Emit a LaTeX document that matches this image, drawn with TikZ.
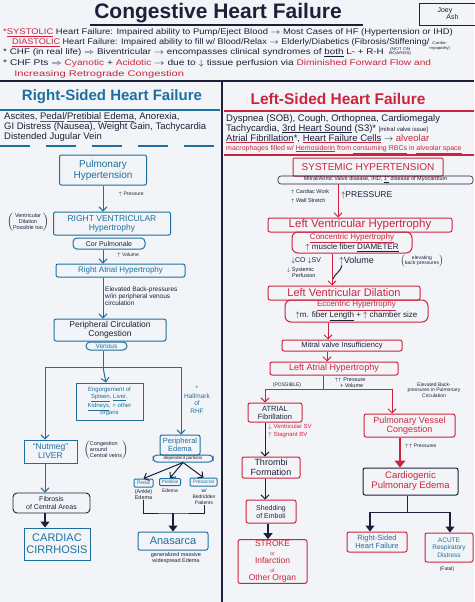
\documentclass[tikz,border=0pt]{standalone}
\usepackage{fontspec}
\setmainfont{Liberation Sans}
\usetikzlibrary{arrows.meta,calc}
\definecolor{ink}{RGB}{28,32,58}
\definecolor{rhfblue}{RGB}{28,112,160}
\definecolor{lhfred}{RGB}{204,36,62}
\definecolor{paper}{RGB}{243,244,247}
\newcommand{\redul}[1]{{\color{lhfred}\underline{\textcolor{ink}{#1}}}}
\newcommand{\tinystack}[3][b]{{\fontsize{#2}{#2}\selectfont\begin{tabular}[#1]{@{}c@{}}#3\end{tabular}}}

\tikzset{
  fs/.style 2 args={font=\fontsize{#1}{#2}\selectfont},
  bfs/.style 2 args={font=\fontsize{#1}{#2}\selectfont\bfseries},
  sz/.style 2 args={minimum width=#1pt,minimum height=#2pt},
  bluebox/.style={rectangle,draw=rhfblue,line width=1pt,text=rhfblue,align=center,inner sep=1pt,rounded corners=2pt},
  redbox/.style={rectangle,draw=lhfred,line width=1pt,text=lhfred,align=center,inner sep=1pt,rounded corners=2pt},
  pill/.style={rounded corners=4pt},
  note/.style={text=ink,align=center,inner sep=0pt},
  hdr/.style={anchor=base west,inner sep=0pt,transform shape,xscale=#1,text=ink,fs={8.2}{9}},
  bluearrow/.style={draw=rhfblue,line width=1pt,-{Straight Barb[length=4pt,width=8pt]}},
  blueline/.style={draw=rhfblue,line width=1pt},
  redarrow/.style={draw=lhfred,line width=1pt,-{Straight Barb[length=4pt,width=8pt]}},
  redline/.style={draw=lhfred,line width=1pt},
  inkarrow/.style={draw=ink,line width=1pt,-{Straight Barb[length=4pt,width=8pt]}},
  inkline/.style={draw=ink,line width=1pt},
  boldarrow/.style={draw=ink,line width=1.3pt,-{Triangle[length=6pt,width=9pt]}},
  redbold/.style={draw=lhfred,line width=1.3pt,-{Triangle[length=7pt,width=11pt]}}
}

\begin{document}
\begin{tikzpicture}[x=1pt,y=-1pt]
\useasboundingbox (0,0) rectangle (474,602);
\fill[paper] (0,0) rectangle (474,602);

% title and header
\node[bfs={21}{22},text=ink] (title) at (218,13) {Congestive Heart Failure};
\draw[ink,line width=1.5pt] (90,25) -- (363,25);
\node[draw=ink,line width=0.8pt,sz={58}{22},fs={7}{7},text=ink,align=left] (author) at (448,14) {Joey\\\quad\ Ash};

\node[hdr=1.15] (systolic) at (3,35) {{\color{lhfred}*\underline{SYSTOLIC}} Heart Failure: Impaired ability to Pump/Eject Blood $\rightarrow$ Most Cases of HF (Hypertension or IHD)};
\node[hdr=1.11] (diastolic) at (12,45) {{\color{lhfred}\underline{DIASTOLIC}} Heart Failure: Impaired ability to fill w/ Blood/Relax $\rightarrow$ Elderly/Diabetics (Fibrosis/Stiffening/\tinystack[t]{4}{Cardio-\\myopathy)}};
\node[hdr=1.2] (chfreal) at (3,55) {* CHF (in real life) $\Rightarrow$ Biventricular $\rightarrow$ encompasses clinical syndromes of \underline{both} L- + R-H \ \tinystack{4}{(NOT ON\\BOARDS)}};
\node[hdr=1.24] (chfpts) at (3,65.5) {* CHF Pts $\Rightarrow$ {\color{lhfred}Cyanotic} + {\color{lhfred}Acidotic} $\rightarrow$ due to $\downarrow$ tissue perfusion via {\color{lhfred}Diminished Forward Flow and}};
\node[hdr=1.36,text=lhfred] (retro) at (14,76) {Increasing Retrograde Congestion};

% frame
\draw[ink,line width=2.5pt] (0,81) -- (474,81);
\draw[ink,line width=2.5pt] (222,81) -- (222,602);

% right-sided panel head
\node[bfs={15}{16},text=rhfblue] (rhf) at (112,97) {Right-Sided Heart Failure};
\draw[rhfblue,line width=1.5pt] (0,110) -- (220,110);
\node[anchor=north west,inner sep=0pt,fs={9.5}{10},text=ink,align=left] (rhfsigns) at (4,112.5) {Ascites, \redul{Pedal}/\redul{Pretibial} \redul{Edema}, Anorexia,\\GI Distress (Nausea), Weight Gain, Tachycardia\\Distended Jugular Vein};
\draw[rhfblue,line width=1.5pt,dash pattern=on 30pt off 16pt] (0,146) -- (220,146);

% left-sided panel head
\node[bfs={15.5}{16},text=lhfred] (lhf) at (338,99) {Left-Sided Heart Failure};
\draw[lhfred,line width=1.5pt] (224,111) -- (474,111);
\node[anchor=north west,inner sep=0pt,fs={9.5}{10},text=ink,align=left] (lhfsigns) at (226,114) {Dyspnea (SOB), Cough, Orthopnea, Cardiomegaly\\Tachycardia, \underline{3rd Heart Sound} (S3)* {\fontsize{6}{6}\selectfont[mitral valve issue]}\\\redul{Atrial Fibrillation}*, \redul{Heart Failure Cells} $\rightarrow$ {\color{lhfred}alveolar}};
\node[anchor=base west,inner sep=0pt,fs={7}{7},text=lhfred] (hfcells) at (226,150) {macrophages filled w/ \underline{Hemosiderin} from \underline{consuming RBCs} in \underline{alveolar space}};
\draw[lhfred,line width=1.2pt] (224,155) -- (474,155);

% right-sided chain
\node[bluebox,sz={87}{30},fs={10}{11}] (pulm) at (103,170) {Pulmonary\\Hypertension};
\node[bluebox,sz={117}{23},fs={8.5}{9}] (rvh) at (112,223.5) {RIGHT VENTRICULAR\\Hypertrophy};
\node[bluebox,pill,sz={72}{11},fs={7}{7},text=ink] (cor) at (109,243.5) {Cor Pulmonale};
\node[bluebox,sz={129}{13},fs={8}{8}] (rah) at (120.5,270.5) {Right Atrial Hypertrophy};
\node[bluebox,sz={112}{22},fs={8.5}{9},text=ink] (pcc) at (110,330) {Peripheral Circulation\\Congestion};
\node[bluebox,pill,sz={41}{8},fs={6.5}{7}] (venous) at (106.5,346) {Venous};
\node[bluebox,rounded corners=0pt,sz={67}{37},fs={6}{7}] (engorge) at (109.5,401.5) {Engorgement of\\\underline{Spleen}, \underline{Liver},\\\underline{Kidneys}, + other\\organs};
\node[bluebox,rounded corners=0pt,sz={53}{23},fs={8.5}{9}] (nutmeg) at (50.5,451.5) {``Nutmeg''\\LIVER};
\node[bluebox,sz={40}{20},fs={7.5}{8}] (periph) at (180,445) {Peripheral\\Edema};
\node[bluebox,pill,sz={60}{7},fs={4.5}{5},text=ink] (depend) at (183,458.5) {dependent portions};
\node[bluebox,rounded corners=1pt,sz={19}{8},fs={5}{5}] (pedal) at (143.5,483) {Pedal};
\node[bluebox,rounded corners=1pt,sz={21}{7},fs={4.5}{5}] (pretib) at (170,482) {Pretibial};
\node[bluebox,rounded corners=1pt,sz={27}{8},fs={5}{5}] (presac) at (203.5,482) {Presacral};
\node[note,fs={5.5}{6}] (pedalnote) at (143.5,494.5) {(Ankle)\\Edema};
\node[note,fs={5}{6}] (pretibnote) at (170,491) {Edema};
\node[note,fs={5}{6}] (presacnote) at (204,497) {w/\\Bedridden\\Patients};
\node[bluebox,sz={70}{18},fs={11}{12}] (anasarca) at (173,541) {Anasarca};
\node[note,fs={5.5}{6.5}] (anasnote) at (176,558) {generalized massive\\widespread Edema};
\node[draw=ink,line width=0.9pt,rounded corners=4pt,sz={77}{20},fs={7}{8},text=ink,align=center,inner sep=1pt] (fibrosis) at (51.5,503) {Fibrosis\\of Central Areas};
\node[bluebox,rounded corners=0pt,sz={66}{32},fs={11}{12}] (cirrhosis) at (57,544) {CARDIAC\\CIRRHOSIS};

\node[note,fs={5}{6}] (rpresslbl) at (131,194) {$\uparrow$ Pressure};
\node[note,fs={5.5}{6}] (dilnote) at (28,222) {$\left(\begin{tabular}{@{}c@{}}Ventricular\\Dilation\\Possible too\end{tabular}\right)$};
\node[note,fs={5}{6}] (rvollbl) at (128,255) {$\uparrow$ Volume};
\node[note,fs={6.5}{7},align=left,anchor=west] (rbacklbl) at (105,296) {Elevated Back-pressures\\w/in peripheral venous\\circulation};
\node[note,fs={6.5}{7.5},text=rhfblue] (hallmark) at (197,400) {*\\Hallmark\\of\\RHF};
\node[note,fs={5.5}{6}] (nutnote) at (106,450) {$\left(\begin{tabular}{@{}l@{}}Congestion\\around\\Central veins\end{tabular}\right)$};

\coordinate (rsplit) at (103,367);
\coordinate (rsplitl) at (45,367);
\coordinate (rsplitr) at (181,367);
\coordinate (bracket) at (173,513);

\draw[bluearrow] (pulm) -- (pulm |- rvh.north);
\draw[bluearrow] (cor.south -| pulm) -- (rah.north -| pulm);
\draw[bluearrow] (rah.south -| pulm) -- (pcc.north -| pulm);
\draw[blueline] (venous.south -| rsplit) -- (rsplit);
\draw[blueline] (rsplitl) -- (rsplitr);
\draw[bluearrow] (rsplit) -- (engorge);
\draw[bluearrow] (rsplitl) -- (rsplitl |- nutmeg.north);
\draw[bluearrow] (rsplitr) -- (rsplitr |- periph.north);
\draw[inkarrow] (depend.south) -- (pedal.north);
\draw[inkarrow] (depend.south) -- (pretib.north);
\draw[inkarrow] (depend.south) -- (presac.north);
\draw[inkline] (pedalnote.south) |- (bracket) -| (presacnote.south);
\draw[boldarrow] (bracket) -- (anasarca);
\draw[bluearrow] (nutmeg.south -| rsplitl) -- (fibrosis.north -| rsplitl);
\draw[boldarrow] (fibrosis.south -| rsplitl) -- (cirrhosis.north -| rsplitl);

% left-sided chain
\node[redbox,rounded corners=1pt,sz={150}{18},fs={10}{10}] (systemic) at (368,167) {SYSTEMIC HYPERTENSION};
\node[draw=ink,line width=0.6pt,rounded corners=3pt,sz={195}{8},fs={5.5}{6},text=ink,inner sep=0pt] (causes) at (375.5,180) {Mitral/Aortic Valve disease, IHD, \underline{1°} disease of Myocardium};
\node[redbox,sz={184}{14},fs={11.5}{12}] (lvh) at (360,225) {Left Ventricular Hypertrophy};
\node[redbox,rounded corners=6pt,sz={120}{21},fs={8}{9}] (concentric) at (352,242.5) {\underline{Concentric Hypertrophy}\\{\color{ink}$\uparrow$ muscle fiber \underline{DIAMETER}}};
\node[redbox,sz={152}{14},fs={11}{12}] (lvd) at (344,293) {Left Ventricular Dilation};
\node[redbox,rounded corners=6pt,sz={143}{22},fs={8}{9}] (eccentric) at (356.5,311) {\underline{Eccentric Hypertrophy}\\{\color{ink}$\uparrow$m. fiber \underline{Length} + $\uparrow$ chamber size}};
\node[redbox,sz={120}{11},fs={7.5}{8},text=ink] (mitral) at (342,345.5) {Mitral valve Insufficiency};
\node[redbox,sz={128}{13},fs={9}{9}] (lah) at (334,368.5) {Left Atrial Hypertrophy};
\node[redbox,sz={54}{19},fs={7.5}{8},text=ink] (afib) at (275,412.5) {ATRIAL\\Fibrillation};
\node[redbox,sz={58}{21},fs={9}{9.5},text=ink] (thrombi) at (271,467.5) {Thrombi\\Formation};
\node[redbox,sz={50}{23},fs={7}{8},text=ink] (shedding) at (271,511.5) {Shedding\\of Emboli};
\node[redbox,sz={69}{43},fs={8.5}{8.5}] (stroke) at (272.5,561.5) {STROKE\\{\fontsize{5}{6}\selectfont or}\\Infarction\\{\fontsize{5}{6}\selectfont of}\\Other Organ};
\node[redbox,sz={91}{23},fs={9}{9.5}] (pvc) at (409.5,425.5) {Pulmonary Vessel\\Congestion};
\node[draw=ink,line width=1pt,rounded corners=2pt,sz={95}{27},fs={9.5}{10},text=lhfred,align=center,inner sep=1pt] (cardio) at (410.5,481.5) {Cardiogenic\\Pulmonary Edema};
\node[redbox,sz={60}{20},fs={7.5}{8},text=rhfblue] (rsided) at (377,542) {Right-Sided\\Heart Failure};
\node[redbox,sz={48}{29},fs={6.5}{7.5},text=rhfblue] (ards) at (449,547.5) {ACUTE\\Respiratory\\Distress};
\node[note,fs={5}{6}] (fatal) at (447,569) {(Fatal)};

\node[note,fs={5.5}{9},align=left] (worklbl) at (310,196.5) {$\uparrow$ Cardiac Work\\$\uparrow$ Wall Stretch};
\node[note,fs={8.5}{9},anchor=west] (lpresslbl) at (341,195) {$\uparrow$PRESSURE};
\node[note,fs={7}{7}] (colbl) at (306,261) {$\downarrow$CO $\downarrow$SV};
\node[note,fs={5.5}{6},align=left] (perflbl) at (301,273) {$\downarrow$ Systemic\\\quad Perfusion};
\node[note,fs={9}{9},anchor=west] (lvollbl) at (339,261) {$\uparrow$Volume};
\node[note,fs={5}{5.5}] (elevlbl) at (422,261) {$\left(\begin{tabular}{@{}c@{}}elevating\\back-pressures\end{tabular}\right)$};
\node[note,fs={5}{6}] (posslbl) at (287,385) {(POSSIBLE)};
\node[note,fs={5.5}{6},align=left] (ppvlbl) at (350,383) {$\uparrow\uparrow$ Pressure\\\quad + Volume};
\node[note,fs={5}{5.5}] (pulmback) at (434,390) {Elevated Back-\\pressures in Pulmonary\\Circulation};
\node[note,fs={6}{8},text=lhfred,align=left,anchor=west] (svlbl) at (268,431) {$\downarrow$ Ventricular SV\\$\uparrow$ Stagnant BV};
\node[note,fs={5}{6},anchor=west] (ppresslbl) at (405,446) {$\uparrow\uparrow$ Pressures};

\coordinate (volmerge) at (333,279);
\coordinate (lsplit) at (323,389);
\coordinate (lsplitl) at (265,389);
\coordinate (lsplitr) at (392,389);
\coordinate (csplit) at (407,512);
\coordinate (csplitl) at (370,512);
\coordinate (csplitr) at (450,512);

\draw[redarrow] ([xshift=-37.5pt]causes.south) -- ([xshift=-22pt]lvh.north);
\draw[redarrow] ([xshift=-20pt]concentric.south) -- ([xshift=-12pt]lvd.north);
\draw[inkline] ([xshift=3pt]lvollbl.south west) to[out=-100,in=70] (volmerge);
\draw[redarrow] ([xshift=-28.5pt]eccentric.south) -- ([xshift=-14pt]mitral.north);
\draw[redarrow] ([xshift=-15pt]mitral.south) -- ([xshift=-7pt]lah.north);
\draw[redline] ([xshift=-11pt]lah.south) -- (lsplit);
\draw[redline] (lsplitl) -- (lsplitr);
\draw[redarrow] (lsplitl) -- (lsplitl |- afib.north);
\draw[redarrow] (lsplitr) -- (lsplitr |- pvc.north);
\draw[inkarrow] ([xshift=-10pt]afib.south) -- ([xshift=-6pt]thrombi.north);
\draw[inkarrow] ([xshift=-6pt]thrombi.south) -- ([xshift=-6pt]shedding.north);
\draw[boldarrow] ([xshift=-3pt]shedding.south) -- ([xshift=-4.5pt]stroke.north);
\draw[redbold] ([xshift=-9.5pt]pvc.south) -- ([xshift=-10.5pt]cardio.north);
\draw[inkline] ([xshift=-3.5pt]cardio.south) -- (csplit);
\draw[inkline] (csplitl) -- (csplitr);
\draw[boldarrow] (csplitl) -- (csplitl |- rsided.north);
\draw[boldarrow] (csplitr) -- (csplitr |- ards.north);

\end{tikzpicture}
\end{document}
